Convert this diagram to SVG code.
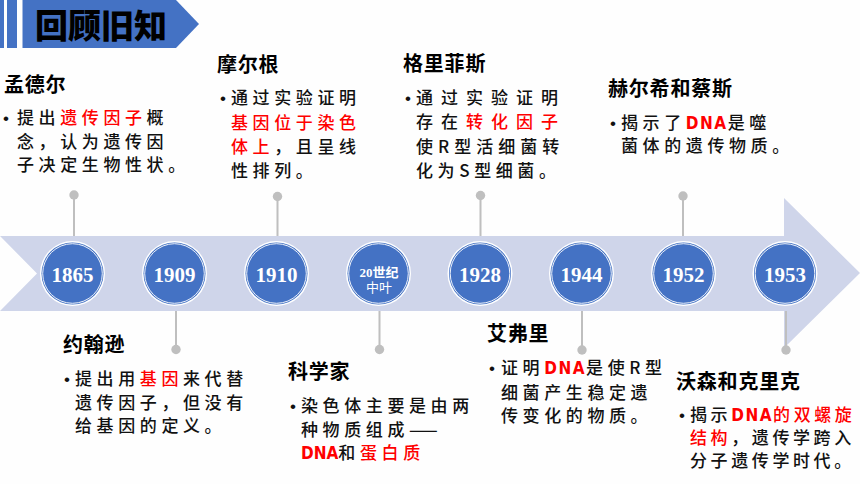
<svg xmlns="http://www.w3.org/2000/svg" width="860" height="484" viewBox="0 0 860 484">
<style>
.ttl{font-family:"Noto Sans CJK SC",sans-serif;font-size:20px;font-weight:700;letter-spacing:0.8px;fill:#000}
.b{font-family:"Noto Sans CJK SC",sans-serif;font-size:17px;font-weight:500;letter-spacing:4.6px;fill:#111}
.bul{font-family:"Liberation Sans",sans-serif;font-size:17px;fill:#111}
.r{fill:#ff0000}
.dna{font-family:"Liberation Sans Narrow","DejaVu Sans Condensed",sans-serif;font-weight:700;letter-spacing:1.5px}
.yr{font-family:"Liberation Serif",serif;font-weight:700;font-size:21px;fill:#fff;text-anchor:middle}
.sm{font-family:"Liberation Serif","Noto Sans CJK SC",serif;font-size:13px;fill:#fff;text-anchor:middle}
.stem{stroke:#bfbfbf;stroke-width:2;fill:none}
.dot{fill:#bfbfbf}
.blue{fill:#4472c4}
</style>
<defs>
<g id="disc">
<circle r="32.5" fill="#ffffff"/>
<circle r="31" fill="#4472c4"/>
<circle r="29.8" fill="none" stroke="#ffffff" stroke-width="0.9"/>
</g>
</defs>
<rect width="860" height="484" fill="#fefefe"/>

<g id="header">
<rect x="0" y="0" width="4" height="48" class="blue"/>
<rect x="7" y="0" width="10" height="48" class="blue"/>
<polygon points="22.5,0 176,0 199,24 176,48 22.5,48" class="blue"/>
<text x="35" y="37.5" font-family="Noto Sans CJK SC,sans-serif" font-size="33" font-weight="900" fill="#000">回顾旧知</text>
</g>

<g id="band">
<polygon points="0,236 784,236 784,198 860,273 784,348 784,311 0,311 37,273.5" fill="#cfd5ea"/>
</g>

<g id="connectors">
<line x1="74" y1="195" x2="74" y2="236" class="stem"/><circle cx="74" cy="195" r="4.7" class="dot"/>
<line x1="277.5" y1="196.5" x2="277.5" y2="236" class="stem"/><circle cx="277.5" cy="196.5" r="4.7" class="dot"/>
<line x1="480.5" y1="195.5" x2="480.5" y2="236" class="stem"/><circle cx="480.5" cy="195.5" r="4.7" class="dot"/>
<line x1="683" y1="196" x2="683" y2="236" class="stem"/><circle cx="683" cy="196" r="4.7" class="dot"/>
<line x1="176" y1="311" x2="176" y2="349.5" class="stem"/><circle cx="176" cy="349.5" r="4.7" class="dot"/>
<line x1="379.5" y1="311" x2="379.5" y2="349.5" class="stem"/><circle cx="379.5" cy="349.5" r="4.7" class="dot"/>
<line x1="582" y1="311" x2="582" y2="350" class="stem"/><circle cx="582" cy="350" r="4.7" class="dot"/>
<line x1="786" y1="311" x2="786" y2="350" class="stem"/><circle cx="786" cy="350" r="4.7" class="dot"/>
</g>

<g id="y1865"><use href="#disc" x="72.5" y="273.5"/><text x="72.5" y="282" class="yr">1865</text></g>
<g id="y1909"><use href="#disc" x="174.5" y="273.5"/><text x="174.5" y="282" class="yr">1909</text></g>
<g id="y1910"><use href="#disc" x="276.5" y="273.5"/><text x="276.5" y="282" class="yr">1910</text></g>
<g id="y20c"><use href="#disc" x="378.5" y="273.5"/>
<text x="379" y="277" class="sm" font-weight="700">20世纪</text>
<text x="379" y="292" class="sm" font-family="Noto Sans CJK SC,sans-serif">中叶</text></g>
<g id="y1928"><use href="#disc" x="480" y="273.5"/><text x="480" y="282" class="yr">1928</text></g>
<g id="y1944"><use href="#disc" x="581.5" y="273.5"/><text x="581.5" y="282" class="yr">1944</text></g>
<g id="y1952"><use href="#disc" x="683.5" y="273.5"/><text x="683.5" y="282" class="yr">1952</text></g>
<g id="y1953"><use href="#disc" x="785" y="273.5"/><text x="785" y="282" class="yr">1953</text></g>

<g id="mendel">
<text x="4" y="91.5" class="ttl">孟德尔</text>
<text x="3" y="124" class="bul">•</text>
<text x="17" y="124.3" class="b">提出<tspan class="r">遗传因子</tspan>概</text>
<text x="17" y="147.5" class="b">念，认为遗传因</text>
<text x="17" y="171.3" class="b">子决定生物性状。</text>
</g>

<g id="morgan">
<text x="217" y="71.5" class="ttl">摩尔根</text>
<text x="220" y="104" class="bul">•</text>
<text x="231" y="104.3" class="b">通过实验证明</text>
<text x="231" y="128.6" class="b r">基因位于染色</text>
<text x="231" y="152.9" class="b"><tspan class="r">体上</tspan>，且呈线</text>
<text x="231" y="177.2" class="b">性排列。</text>
</g>

<g id="griffith">
<text x="403" y="70.5" class="ttl">格里菲斯</text>
<text x="405" y="104" class="bul">•</text>
<text x="416" y="104" class="b" style="letter-spacing:8px">通过实验证明</text>
<text x="416" y="128" class="b" style="letter-spacing:8px">存在<tspan class="r">转化因子</tspan></text>
<text x="416" y="152.5" class="b" style="letter-spacing:5px">使R型活细菌转</text>
<text x="416" y="176.5" class="b">化为S型细菌。</text>
</g>

<g id="hershey">
<text x="608" y="96" class="ttl">赫尔希和蔡斯</text>
<text x="610" y="129" class="bul">•</text>
<text x="621" y="129" class="b">揭示了<tspan class="r dna">DNA</tspan>是噬</text>
<text x="621" y="152" class="b">菌体的遗传物质。</text>
</g>

<g id="johannsen">
<text x="63" y="352" class="ttl">约翰逊</text>
<text x="64" y="385" class="bul">•</text>
<text x="75" y="385" class="b">提出用<tspan class="r">基因</tspan>来代替</text>
<text x="75" y="409" class="b">遗传因子，但没有</text>
<text x="75" y="432" class="b">给基因的定义。</text>
</g>

<g id="scientists">
<text x="288" y="379" class="ttl">科学家</text>
<text x="290" y="412" class="bul">•</text>
<text x="301" y="412" class="b">染色体主要是由两</text>
<text x="301" y="436" class="b">种物质组成<tspan style="letter-spacing:0">——</tspan></text>
<text x="301" y="459" class="b"><tspan class="r dna" style="letter-spacing:0">DNA</tspan>和<tspan class="r">蛋白质</tspan></text>
</g>

<g id="avery">
<text x="487" y="340.5" class="ttl">艾弗里</text>
<text x="489" y="374" class="bul">•</text>
<text x="501" y="374" class="b">证明<tspan class="r dna">DNA</tspan>是使R型</text>
<text x="501" y="399" class="b">细菌产生稳定遗</text>
<text x="501" y="422" class="b">传变化的物质。</text>
</g>

<g id="watsoncrick">
<text x="676" y="388.5" class="ttl">沃森和克里克</text>
<text x="679" y="421" class="bul">•</text>
<text x="690" y="421" class="b" style="letter-spacing:3.6px">揭示<tspan class="r dna">DNA</tspan><tspan class="r">的双螺旋</tspan></text>
<text x="690" y="444" class="b" style="letter-spacing:3.6px"><tspan class="r">结构</tspan>，遗传学跨入</text>
<text x="690" y="467" class="b" style="letter-spacing:3.6px">分子遗传学时代。</text>
</g>
</svg>
